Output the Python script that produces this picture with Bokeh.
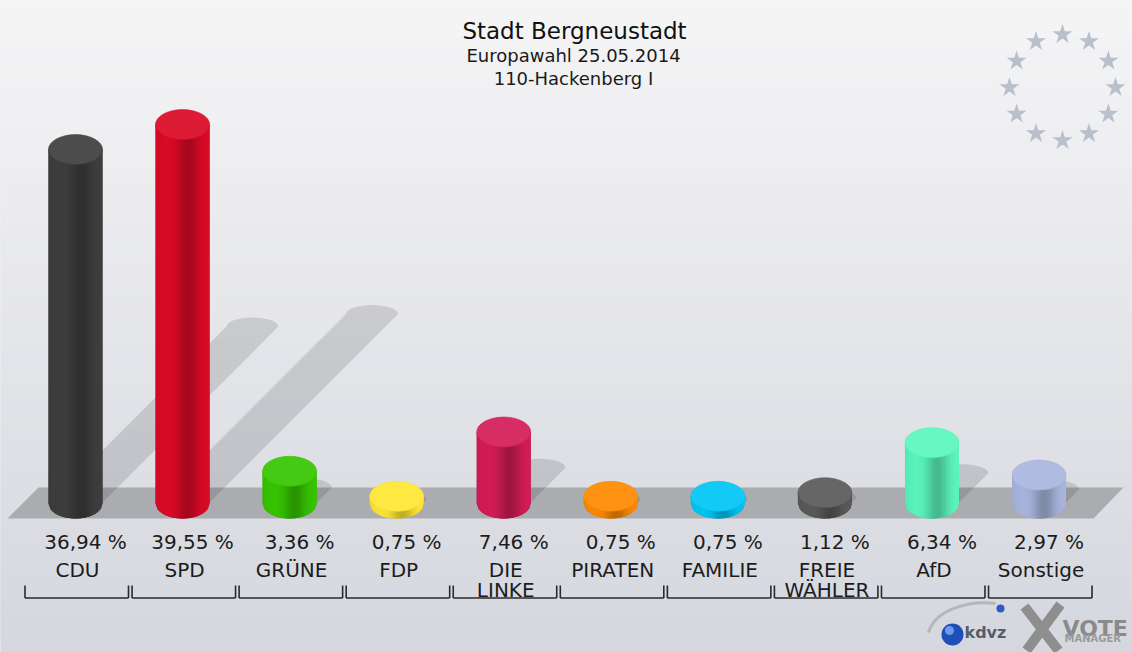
import numpy as np
from bokeh.plotting import figure
from bokeh.models import Range1d
from bokeh.core.properties import value
from bokeh.embed import file_html
from bokeh.resources import INLINE

# ---------------- data ----------------
parties = ["CDU", "SPD", "GRÜNE", "FDP", "DIE\nLINKE", "PIRATEN", "FAMILIE",
           "FREIE\nWÄHLER", "AfD", "Sonstige"]
shares = [36.94, 39.55, 3.36, 0.75, 7.46, 0.75, 0.75, 1.12, 6.34, 2.97]
colors = ["#3e3e3e", "#dc0a26", "#36c600", "#ffe633", "#d41c58", "#ff8a00",
          "#00c6f4", "#5a5a5a", "#5cf6bf", "#aab6df"]
title_lines = ["Stadt Bergneustadt", "Europawahl 25.05.2014", "110-Hackenberg I"]

# ---------------- layout helpers (page pixels -> data) ----------------
W, H = 1132, 652
X0, DX = 75.0, 107.06      # pixel centre of first bar, spacing
Y0, KY = 503.0, 9.58       # pixel of 0 %, pixels per percent
TSHIFT = 8                 # text baseline correction (pixels)


def X(px):
    return (px - X0) / DX


def Y(py):
    return (Y0 - py) / KY


def TY(py):
    return Y(py - TSHIFT)


def hex2rgb(h):
    h = h.lstrip("#")
    return np.array([int(h[i:i + 2], 16) for i in (0, 2, 4)], dtype=float)


def rgb2hex(c):
    c = np.clip(np.round(c), 0, 255).astype(int)
    return "#%02x%02x%02x" % tuple(c)


def scale(h, f):
    return rgb2hex(hex2rgb(h) * f)


def mix(h, other, t):
    return rgb2hex(hex2rgb(h) * (1 - t) + hex2rgb(other) * t)


FONT = value("DejaVu Sans")

p = figure(width=W, height=H, output_backend="svg", toolbar_location=None,
           x_range=Range1d(X(0), X(W)), y_range=Range1d(Y(H), Y(0)),
           x_axis_location=None, y_axis_location=None, min_border=0, tools="")
p.grid.visible = False
p.outline_line_color = None
p.background_fill_color = "#e6e7eb"
p.border_fill_color = None

# ---------------- background gradient ----------------
top_c, mid_c, bot_c = "#f5f5f6", "#e5e6ea", "#d4d7de"
n = 90
edges = np.linspace(0, H, n + 1)
bb, bt, bc = [], [], []
for k in range(n):
    t = ((edges[k] + edges[k + 1]) / 2) / H
    c = mix(top_c, mid_c, t / 0.5) if t < 0.5 else mix(mid_c, bot_c, (t - 0.5) / 0.5)
    bt.append(Y(edges[k]))
    bb.append(Y(edges[k + 1]))
    bc.append(c)
p.quad(left=X(0), right=X(W), top=bt, bottom=bb, fill_color=bc,
       line_color=bc, line_width=1)

# ---------------- EU stars ----------------
ang = np.deg2rad(np.arange(0, 360, 30) - 90)
sx = [X(1062 + 53 * np.cos(a)) for a in ang]
sy = [Y(87 + 53 * np.sin(a)) for a in ang]
p.scatter(sx, sy, marker="star", size=21, fill_color="#b9bfcb", line_color=None)

# ---------------- floor ----------------
p.patch([X(7), X(38), X(1123), X(1093)], [Y(518), Y(487), Y(487), Y(518)],
        fill_color="#abacb0", line_color=None)

idx = list(range(len(parties)))

# ---------------- shadows ----------------
sh_xs, sh_ys = [], []
for i, v in zip(idx, shares):
    cx = X0 + DX * i
    d = 0.5 * v * KY
    w2 = 26
    pts = [(cx - w2, Y0), (cx + w2, Y0), (cx + w2 + d, Y0 - d)]
    for a in np.linspace(0, np.pi, 14)[1:-1]:
        pts.append((cx + d + w2 * np.cos(a), Y0 - d - 9 * np.sin(a)))
    pts.append((cx - w2 + d, Y0 - d))
    sh_xs.append([X(a) for a, b in pts])
    sh_ys.append([Y(b) for a, b in pts])
p.patches(sh_xs, sh_ys, fill_color="#000000", fill_alpha=0.12, line_color=None)

# ---------------- cylinders ----------------
RX, RY = 27.0, 15.0
NS = 27
base_xs, base_ys, base_c = [], [], []
st_xs, st_ys, st_c = [], [], []
for i, v, col in zip(idx, shares, colors):
    cx = X0 + DX * i
    us = np.linspace(-1, 1, 31)
    base_xs.append([X(cx - RX), X(cx + RX)] + [X(cx + RX * u) for u in us[::-1]])
    base_ys.append([v, v] + [Y(Y0 + RY * np.sqrt(max(0.0, 1 - u * u))) for u in us[::-1]])
    base_c.append(scale(col, 0.85))
    for k in range(NS):
        u0 = -1 + 2 * k / NS
        u1 = min(1.0, -1 + 2 * (k + 1) / NS + 0.03)
        t = (k + 0.5) / NS
        f = 1 - 0.25 * np.exp(-((t - 0.6) / 0.2) ** 2) - 0.06 * (1 - t) ** 6
        xa, xb = cx + RX * u0, cx + RX * u1
        ya = Y0 + RY * np.sqrt(max(0.0, 1 - u0 ** 2))
        yb = Y0 + RY * np.sqrt(max(0.0, 1 - u1 ** 2))
        st_xs.append([X(xa), X(xb), X(xb), X(xa)])
        st_ys.append([v, v, Y(yb), Y(ya)])
        st_c.append(scale(col, f))
p.patches(base_xs, base_ys, fill_color=base_c, line_color=None)
p.patches(st_xs, st_ys, fill_color=st_c, line_color=None)

tops = [mix(c, "#ffffff", 0.07) for c in colors]
p.ellipse(x=idx, y=shares, width=2 * RX / DX, height=2 * RY / KY,
          fill_color=tops, line_color=[scale(c, 0.97) for c in colors], line_width=0.6)

# ---------------- labels ----------------
pct = [("%.2f" % v).replace(".", ",") + " %" for v in shares]
p.text(x=idx, y=[TY(549)] * len(idx), text=pct, x_offset=10, text_align="center",
       text_baseline="alphabetic", text_font=FONT, text_font_size="20px",
       text_color="#1c1c1c")
line1 = [s.split("\n")[0] for s in parties]
line2 = [s.split("\n")[1] if "\n" in s else "" for s in parties]
p.text(x=idx, y=[TY(577)] * len(idx), text=line1, x_offset=2, text_align="center",
       text_baseline="alphabetic", text_font=FONT, text_font_size="20px",
       text_color="#1c1c1c")
p.text(x=idx, y=[TY(597)] * len(idx), text=line2, x_offset=2, text_align="center",
       text_baseline="alphabetic", text_font=FONT, text_font_size="20px",
       text_color="#1c1c1c")

# ---------------- brackets ----------------
lft = [i - 50.5 / DX for i in idx]
rgt = [i + 53.0 / DX for i in idx]
yb_, yt_ = Y(597.5), Y(585)
p.segment(x0=lft, y0=[yb_] * len(idx), x1=rgt, y1=[yb_] * len(idx),
          line_color="#2a2a2a", line_width=1.6)
p.segment(x0=lft, y0=[yb_] * len(idx), x1=lft, y1=[yt_] * len(idx),
          line_color="#2a2a2a", line_width=1.6)
p.segment(x0=rgt, y0=[yb_] * len(idx), x1=rgt, y1=[yt_] * len(idx),
          line_color="#2a2a2a", line_width=1.6)

# ---------------- title ----------------
p.text(x=[X(574)], y=[TY(38)], text=[title_lines[0]], text_align="center",
       text_baseline="alphabetic", text_font=FONT, text_font_size="23px",
       text_color="#111111")
p.text(x=[X(573), X(573)], y=[TY(63), TY(86)], text=title_lines[1:],
       text_align="center", text_baseline="alphabetic", text_font=FONT,
       text_font_size="18px", text_color="#1a1a1a")

# ---------------- logos ----------------
p.bezier(x0=[X(928)], y0=[Y(632)], x1=[X(995)], y1=[Y(603)],
         cx0=[X(935)], cy0=[Y(608)], cx1=[X(970)], cy1=[Y(600)],
         line_color="#b4b6ba", line_width=3)
p.scatter([X(952)], [Y(634)], size=22, fill_color="#1f4fb8", line_color=None)
p.scatter([X(949)], [Y(630)], size=9, fill_color="#6f9be6", line_color=None)
p.scatter([X(1000)], [Y(608)], size=8, fill_color="#2a5cc4", line_color=None)
p.text(x=[X(964)], y=[TY(640)], text=["kdvz"], text_font=FONT,
       text_font_style="bold", text_font_size="16px", text_color="#585d68",
       text_baseline="alphabetic")
p.segment(x0=[X(1024), X(1060)], y0=[Y(606), Y(604)],
          x1=[X(1058), X(1026)], y1=[Y(650), Y(650)],
          line_color="#8e8e8e", line_width=10)
p.text(x=[X(1062)], y=[TY(636)], text=["VOTE"], text_font=FONT,
       text_font_style="bold", text_font_size="22px", text_color="#8a8a8a",
       text_baseline="alphabetic")
p.text(x=[X(1064)], y=[TY(646)], text=["MANAGER"], text_font=FONT,
       text_font_style="bold", text_font_size="10px", text_color="#9a9a9a",
       text_baseline="alphabetic")

html = file_html(p, INLINE)
open("out.html", "w").write(html)
